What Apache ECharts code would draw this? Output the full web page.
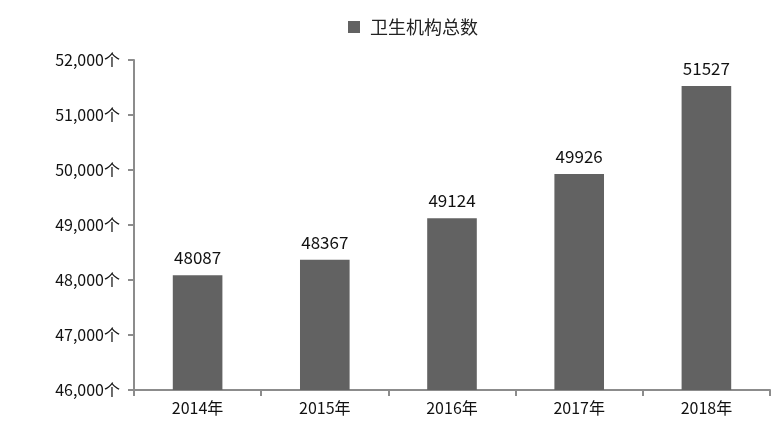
<!DOCTYPE html>
<html><head><meta charset="utf-8">
<script src="https://cdn.jsdelivr.net/npm/echarts@6/dist/echarts.min.js"></script>
<style>html,body{margin:0;padding:0;background:#fff}#c{width:777px;height:429px}</style>
</head><body><div id="c"></div>
<script>
var categories = ['2014年','2015年','2016年','2017年','2018年'];
var values = [48087, 48367, 49124, 49926, 51527];
var seriesName = '卫生机构总数';
var yMin = 46000, yMax = 52000, yStep = 1000;

var chart = echarts.init(document.getElementById('c'));
var font = '"Noto Sans CJK SC", "Noto Sans", sans-serif';
chart.setOption({
  animation: false,
  textStyle: {fontFamily: font},
  legend: {
    data: [seriesName], top: 13, left: 343,
    icon: 'rect', itemWidth: 12, itemHeight: 12, itemGap: 10,
    textStyle: {fontSize: 18, color: '#222', fontFamily: font, padding: [0, 0, 0, 5]}
  },
  grid: {left: 134, right: 7, top: 60, bottom: 39},
  xAxis: {
    type: 'category', data: categories,
    axisLine: {lineStyle: {color: '#8c8c8c', width: 2}},
    axisTick: {show: true, length: 6, lineStyle: {color: '#8c8c8c', width: 2}},
    axisLabel: {color: '#111', fontSize: 16, margin: 10, fontFamily: font}
  },
  yAxis: {
    type: 'value', min: yMin, max: yMax, interval: yStep,
    axisLine: {show: true, lineStyle: {color: '#8c8c8c', width: 2}},
    axisTick: {show: true, length: 6, lineStyle: {color: '#8c8c8c', width: 2}},
    splitLine: {show: false},
    axisLabel: {
      color: '#111', fontSize: 16, margin: 14, fontFamily: font,
      formatter: function (v) { return v.toLocaleString('en-US') + '个'; }
    }
  },
  series: [{
    name: seriesName, type: 'bar', data: values, barWidth: '39%',
    itemStyle: {color: '#626262'},
    label: {show: true, position: 'top', distance: 9, color: '#111', fontSize: 17, fontFamily: font}
  }]
});
</script></body></html>
